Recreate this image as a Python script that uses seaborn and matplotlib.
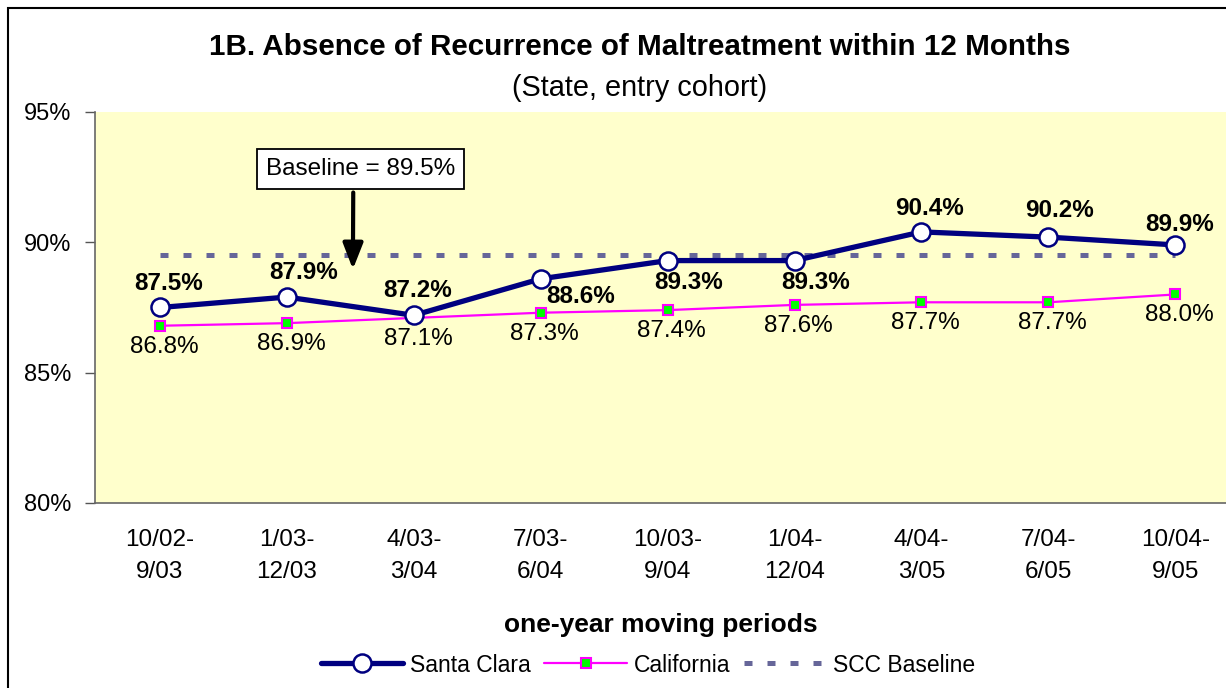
import matplotlib
matplotlib.use("Agg")
import matplotlib.pyplot as plt
import matplotlib.patches as mpatches
import seaborn as sns
import pandas as pd

periods = ["10/02-\n9/03", "1/03-\n12/03", "4/03-\n3/04", "7/03-\n6/04", "10/03-\n9/04",
           "1/04-\n12/04", "4/04-\n3/05", "7/04-\n6/05", "10/04-\n9/05"]
santa_clara = [87.5, 87.9, 87.2, 88.6, 89.3, 89.3, 90.4, 90.2, 89.9]
california = [86.8, 86.9, 87.1, 87.3, 87.4, 87.6, 87.7, 87.7, 88.0]
baseline = [89.5] * 9
baseline_value = 89.5

sns.set_style("ticks")
plt.rcParams['font.family'] = ['Liberation Sans', 'DejaVu Sans']
plt.rcParams.update({'text.color': 'black', 'axes.labelcolor': 'black',
                     'xtick.color': 'black', 'ytick.color': 'black'})

df = pd.DataFrame({"x": range(len(periods)), "sc": santa_clara,
                   "ca": california, "base": baseline})

fig = plt.figure(figsize=(12.26, 6.88), dpi=100)
ax = fig.add_axes([95 / 1226, 1 - 503 / 688, 1 - 95 / 1226, (503 - 112) / 688])
ax.set_facecolor("#FFFFCC")

sns.lineplot(data=df, x="x", y="base", ax=ax, color="#666699", lw=3.6,
             label="SCC Baseline", zorder=2)
ax.lines[-1].set_dashes([1.6, 3.0])
sns.lineplot(data=df, x="x", y="ca", ax=ax, color="#FF00FF", lw=1.6, marker="s",
             markersize=7, markerfacecolor="#00FF00", markeredgecolor="#FF00FF",
             markeredgewidth=1.5, label="California", zorder=3)
sns.lineplot(data=df, x="x", y="sc", ax=ax, color="#000080", lw=3.8, marker="o",
             markersize=13, markerfacecolor="white", markeredgecolor="#000080",
             markeredgewidth=1.8, label="Santa Clara", zorder=4)

# Santa Clara labels (bold), offsets in points
sc_offsets = [(6, 17), (12, 18), (3, 18), (29, -13), (15, -16), (15, -16), (6, 17), (8, 19), (3, 15)]
for i, v in enumerate(santa_clara):
    ax.annotate(f"{v:.1f}%", (i, v), xytext=sc_offsets[i], textcoords="offset points",
                ha="center", va="center", fontsize=17.5, fontweight="bold", zorder=6)
for i, v in enumerate(california):
    ax.annotate(f"{v:.1f}%", (i, v), xytext=(3, -15), textcoords="offset points",
                ha="center", va="center", fontsize=17.5, zorder=6)

ax.annotate(f"Baseline = {baseline_value}%", xy=(1.52, 88.86), xytext=(1.583, 92.81),
            ha="center", va="center", fontsize=17.5,
            bbox=dict(boxstyle="square,pad=0.37", fc="white", ec="black", lw=1.3),
            arrowprops=dict(arrowstyle="-|>,head_width=0.35,head_length=0.9", color="black",
                            lw=3, relpos=(0.46, 0)), zorder=7)

ax.set_xlim(-0.512, 8.40)
ax.set_ylim(80, 95)
ax.set_yticks([80, 85, 90, 95])
ax.set_yticklabels(["80%", "85%", "90%", "95%"])
ax.set_xticks(range(len(periods)))
ax.set_xticklabels(periods, linespacing=1.55)
ax.tick_params(axis="x", length=0, pad=19, labelsize=17.5)
ax.tick_params(axis="y", length=7, width=1, color="#555555", pad=10, labelsize=17)
for s in ["top", "right"]:
    ax.spines[s].set_visible(False)
for s in ["left", "bottom"]:
    ax.spines[s].set_color("#666666")
    ax.spines[s].set_linewidth(1.2)
ax.set_xlabel("one-year moving periods", fontsize=19, fontweight="bold", labelpad=22)
ax.set_ylabel("")

handles, labels = ax.get_legend_handles_labels()
order = [labels.index("Santa Clara"), labels.index("California"), labels.index("SCC Baseline")]
ax.legend([handles[i] for i in order], [labels[i] for i in order], loc="center",
          bbox_to_anchor=(648 / 1226, 1 - 665 / 688), bbox_transform=fig.transFigure,
          ncol=3, frameon=False, fontsize=16.5, handlelength=3.6, columnspacing=0.6,
          handletextpad=0.3)

fig.text(640 / 1226, 1 - 47 / 688, "1B. Absence of Recurrence of Maltreatment within 12 Months",
         ha="center", va="center", fontsize=21.3, fontweight="bold")
fig.text(640 / 1226, 1 - 88 / 688, "(State, entry cohort)", ha="center", va="center",
         fontsize=20.8)

fig.patches.append(mpatches.Rectangle((8 / 1226, -0.1), 1.2, 1.1 - 8 / 688,
                                      transform=fig.transFigure, fill=False,
                                      ec="black", lw=1.5))

fig.savefig("out.png", dpi=100)
